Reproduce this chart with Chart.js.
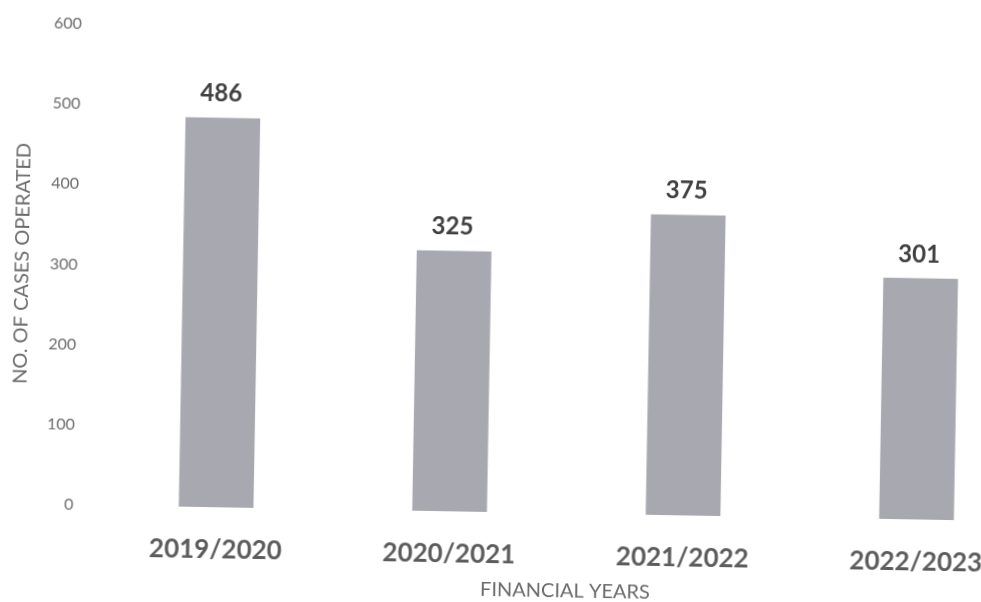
<!DOCTYPE html>
<html>
<head>
<meta charset="utf-8">
<title>No. of cases operated by financial year</title>
<script src="https://cdn.jsdelivr.net/npm/chart.js@4/dist/chart.umd.min.js"></script>
<style>
  html, body { margin: 0; padding: 0; background: #fff; overflow: hidden; width: 981px; height: 602px; }
  #wrap { position: absolute; left: 0; top: 0; width: 1045px; height: 602px;
          transform-origin: 490px 301px; transform: rotate(1deg); }
  canvas { display: block; }
</style>
</head>
<body>
<div id="wrap"><canvas id="c" width="1045" height="602"></canvas></div>
<script>
// Financial years and operated cases
const years = ['2019/2020', '2020/2021', '2021/2022', '2022/2023'];
const casesOperated = [486, 325, 375, 301];
const yTicks = [0, 100, 200, 300, 400, 500, 600];

const FONT = 'Lato, "Open Sans", "Liberation Sans", sans-serif';

// Bold value printed above each bar
const barValueLabels = {
  id: 'barValueLabels',
  afterDatasetsDraw(chart) {
    const ctx = chart.ctx;
    const meta = chart.getDatasetMeta(0);
    ctx.save();
    ctx.font = 'bold 24px ' + FONT;
    ctx.fillStyle = '#404040';
    ctx.textAlign = 'center';
    ctx.textBaseline = 'alphabetic';
    meta.data.forEach((bar, i) => {
      ctx.fillText(String(casesOperated[i]), bar.x - 2, bar.y - 16);
    });
    ctx.restore();
  }
};

new Chart(document.getElementById('c'), {
  type: 'bar',
  data: {
    labels: years,
    datasets: [{
      data: casesOperated,
      backgroundColor: '#a8a9b0',
      borderWidth: 0,
      categoryPercentage: 1,
      barPercentage: 0.32
    }]
  },
  options: {
    responsive: false,
    animation: false,
    events: [],
    layout: { padding: { top: 31, right: 8, bottom: 0, left: 0 } },
    plugins: {
      legend: { display: false },
      tooltip: { enabled: false }
    },
    scales: {
      x: {
        grid: { display: false, drawTicks: false },
        border: { display: false },
        ticks: {
          padding: 27,
          color: '#5c5c5c',
          font: { family: FONT, size: 26, weight: 'bold' },
          maxRotation: 0
        },
        title: {
          display: true,
          text: 'FINANCIAL YEARS',
          color: '#6b6b6b',
          font: { family: FONT, size: 20 },
          padding: { top: 0, bottom: 0 }
        },
        afterFit(scale) { scale.height = 90; }
      },
      y: {
        min: 0,
        max: 600,
        grid: { display: false, drawTicks: false },
        border: { display: false },
        afterBuildTicks(scale) { scale.ticks = yTicks.map(v => ({ value: v })); },
        ticks: {
          padding: 26,
          color: '#6b6b6b',
          font: { family: FONT, size: 16 }
        },
        title: {
          display: true,
          text: 'NO. OF CASES OPERATED',
          color: '#6b6b6b',
          font: { family: FONT, size: 20 },
          padding: { top: 10, bottom: 0 }
        },
        afterFit(scale) {
          scale.width = 103;
          scale.paddingTop = 0;
        }
      }
    }
  },
  plugins: [barValueLabels]
});
</script>
</body>
</html>
